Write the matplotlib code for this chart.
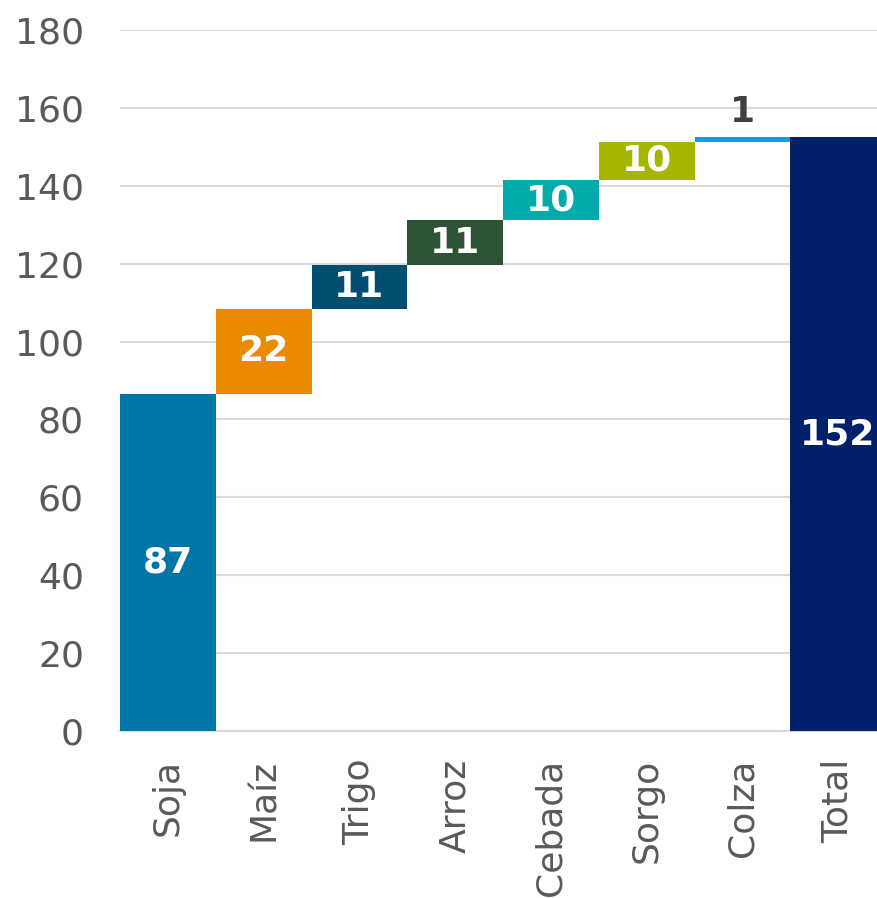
import numpy as np
import matplotlib.pyplot as plt

categories = ["Soja", "Maíz", "Trigo", "Arroz", "Cebada", "Sorgo", "Colza", "Total"]
values = [86.6, 21.8, 11.3, 11.4, 10.4, 9.8, 1.2]
colors = ["#0075A8", "#EA8A00", "#004F6E", "#2D5234", "#00ABA9", "#A5B500", "#00A3E0", "#002169"]
yticks = [0, 20, 40, 60, 80, 100, 120, 140, 160, 180]

plt.rcParams['font.family'] = ['DejaVu Sans']

total = sum(values)
heights = values + [total]
bottoms = list(np.concatenate([[0], np.cumsum(values)[:-1]])) + [0]
labels = [f"{v:.0f}" for v in heights]

fig = plt.figure(figsize=(8.77, 8.98), dpi=100)
ax = fig.add_axes([120 / 877, 1 - 731 / 898, 766 / 877, 701 / 898])

x = np.arange(len(categories))
ax.bar(x, heights, bottom=bottoms, width=1.0, color=colors, zorder=3)

for i in range(len(categories)):
    mid = bottoms[i] + heights[i] / 2
    if heights[i] < 5:
        ax.text(x[i], bottoms[i] + heights[i] + 2, labels[i], ha='center', va='bottom',
                fontsize=26, fontweight='bold', color='#404040', zorder=4)
    else:
        ax.text(x[i], mid, labels[i], ha='center', va='center',
                fontsize=26, fontweight='bold', color='white', zorder=4)

ax.set_xlim(-0.5, len(categories) - 0.5)
ax.set_ylim(0, 180)
ax.set_yticks(yticks)
ax.set_xticks(x)
ax.set_xticklabels(categories, rotation=90)
ax.tick_params(axis='both', length=0, labelsize=26, labelcolor='#595959')
ax.tick_params(axis='x', pad=20)
ax.tick_params(axis='y', pad=26)

ax.grid(axis='y', color='#D9D9D9', linewidth=1.5, zorder=0)
for s in ['top', 'right', 'left']:
    ax.spines[s].set_visible(False)
ax.spines['bottom'].set_color('#D9D9D9')
ax.spines['bottom'].set_linewidth(1.5)

fig.savefig("out.png", dpi=100)
